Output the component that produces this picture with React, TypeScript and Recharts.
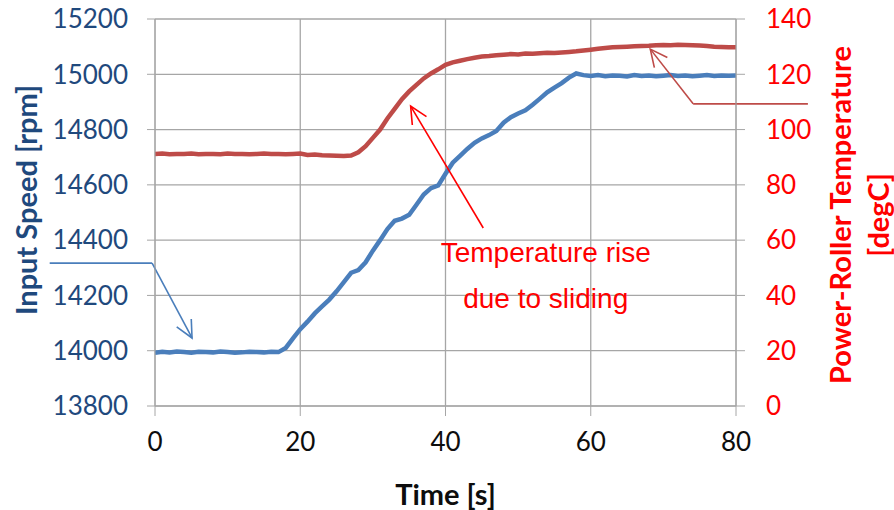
import { LineChart, Line, XAxis, YAxis, CartesianGrid, ReferenceLine, ReferenceDot } from 'recharts'

// time axis, one sample per second
const times = Array.from({ length: 81 }, (_, i) => i)

// input speed [rpm]
const speed = [
  13993, 13996, 13994, 13997, 13995, 13993, 13996, 13995, 13994, 13997,
  13995, 13993, 13994, 13996, 13995, 13994, 13996, 13995, 14010, 14045,
  14078, 14105, 14135, 14160, 14185, 14215, 14248, 14282, 14292, 14320,
  14362, 14400, 14440, 14470, 14478, 14492, 14528, 14565, 14588, 14598,
  14640, 14680, 14705, 14730, 14752, 14768, 14780, 14795, 14825, 14845,
  14858, 14870, 14890, 14912, 14935, 14952, 14968, 14988, 15003, 14997,
  14994, 14997, 14993, 14996, 14995, 14992, 14997, 14994, 14996, 14993,
  14995, 14997, 14994, 14996, 14993, 14995, 14997, 14994, 14996, 14995,
  14996,
]

// power-roller temperature [degC]
const temperature = [
  91.2, 91.3, 91.1, 91.2, 91.2, 91.3, 91.1, 91.2, 91.2, 91.1,
  91.3, 91.2, 91.2, 91.1, 91.2, 91.3, 91.2, 91.2, 91.1, 91.2,
  91.3, 90.8, 91.0, 90.7, 90.6, 90.5, 90.4, 90.6, 91.8, 94.0,
  97.0, 100.0, 104.0, 107.5, 111.0, 113.8, 116.2, 118.5, 120.3, 121.8,
  123.4, 124.3, 124.9, 125.5, 126.0, 126.4, 126.6, 126.9, 127.1, 127.3,
  127.2, 127.5, 127.4, 127.6, 127.8, 127.7, 127.9, 128.1, 128.3, 128.6,
  128.9, 129.2, 129.5, 129.8, 129.9, 130.0, 130.1, 130.2, 130.3, 130.5,
  130.6, 130.5, 130.7, 130.6, 130.5, 130.4, 130.2, 130.0, 129.9, 129.8,
  129.8,
]

const timeTicks = [0, 20, 40, 60, 80]
const speedTicks = [13800, 14000, 14200, 14400, 14600, 14800, 15000, 15200]
const tempTicks = [0, 20, 40, 60, 80, 100, 120, 140]

const data = times.map((t, i) => ({ t, speed: speed[i], temp: temperature[i] }))

const GRID = '#A6A6A6'
const BLUE = '#4A7EBB'
const DARKRED = '#BE4B48'
const NAVY = '#1F497D'
const TICK_FONT = 'Lato, sans-serif'
const NOTE_FONT = 'Liberation Sans, Arial, sans-serif'

// line with an open arrow head at (x2, y2)
const arrow = (color: string, head: boolean) => (props: any) => {
  const { x1, y1, x2, y2 } = props
  const a = Math.atan2(y2 - y1, x2 - x1)
  const len = 19
  const spread = Math.PI / 7
  const p1 = [x2 - len * Math.cos(a - spread), y2 - len * Math.sin(a - spread)]
  const p2 = [x2 - len * Math.cos(a + spread), y2 - len * Math.sin(a + spread)]
  return (
    <g>
      <line x1={x1} y1={y1} x2={x2} y2={y2} stroke={color} strokeWidth={1.6} />
      {head && (
        <polyline
          points={`${p1[0]},${p1[1]} ${x2},${y2} ${p2[0]},${p2[1]}`}
          fill="none"
          stroke={color}
          strokeWidth={1.6}
        />
      )}
    </g>
  )
}

export default function App() {
  return (
    <div style={{ position: 'absolute', left: 0, top: 0, background: '#fff' }}>
      <LineChart width={894} height={510} data={data} margin={{ top: 19, right: 0, bottom: 0, left: 0 }}>
        <CartesianGrid yAxisId="left" stroke={GRID} strokeWidth={1.3} />
        <XAxis
          dataKey="t"
          type="number"
          domain={[0, 80]}
          ticks={timeTicks}
          allowDataOverflow
          height={104}
          stroke={GRID}
          tickSize={10}
          tickMargin={17}
          tick={{ fill: '#0D0D0D', fontSize: 26, fontFamily: TICK_FONT }}
          label={(p: any) => (
            <text
              x={p.viewBox.x + p.viewBox.width / 2}
              y={493}
              textAnchor="middle"
              dominantBaseline="central"
              fill="#0D0D0D"
              fontSize={29}
              fontWeight="bold"
              fontFamily={TICK_FONT}
            >
              Time [s]
            </text>
          )}
        />
        <YAxis
          yAxisId="left"
          domain={[13800, 15200]}
          ticks={speedTicks}
          allowDataOverflow
          width={155}
          stroke={GRID}
          tickSize={8}
          tickMargin={19}
          tick={{ fill: NAVY, fontSize: 26, fontFamily: TICK_FONT }}
          label={() => (
            <text
              x={25}
              y={200}
              transform="rotate(-90, 25, 200)"
              textAnchor="middle"
              dominantBaseline="central"
              fill={NAVY}
              fontSize={29}
              fontWeight="bold"
              fontFamily={TICK_FONT}
            >
              Input Speed [rpm]
            </text>
          )}
        />
        <YAxis
          yAxisId="right"
          orientation="right"
          domain={[0, 140]}
          ticks={tempTicks}
          allowDataOverflow
          width={158}
          stroke={GRID}
          tickSize={9}
          tickMargin={21}
          tick={{ fill: '#FF0000', fontSize: 26, fontFamily: TICK_FONT }}
          label={(p: any) => {
            const x1 = p.viewBox.x + 103
            const x2 = p.viewBox.x + 141
            const cy = 215
            const common = {
              textAnchor: 'middle' as const,
              dominantBaseline: 'central' as const,
              fill: '#FF0000',
              fontSize: 29,
              fontWeight: 'bold',
              fontFamily: TICK_FONT,
            }
            return (
              <g>
                <text x={x1} y={cy} transform={`rotate(-90, ${x1}, ${cy})`} {...common}>
                  Power-Roller Temperature
                </text>
                <text x={x2} y={cy} transform={`rotate(-90, ${x2}, ${cy})`} {...common}>
                  [degC]
                </text>
              </g>
            )
          }}
        />
        <Line
          yAxisId="right"
          type="linear"
          dataKey="temp"
          stroke={DARKRED}
          strokeWidth={4.5}
          dot={false}
          isAnimationActive={false}
        />
        <Line
          yAxisId="left"
          type="linear"
          dataKey="speed"
          stroke={BLUE}
          strokeWidth={4.5}
          dot={false}
          isAnimationActive={false}
        />

        {/* blue callout to the initial speed */}
        <ReferenceLine
          yAxisId="left"
          ifOverflow="visible"
          segment={[{ x: -14.5, y: 14317 }, { x: -0.4, y: 14317 }]}
          shape={arrow(BLUE, false)}
        />
        <ReferenceLine
          yAxisId="left"
          ifOverflow="visible"
          segment={[{ x: -0.4, y: 14317 }, { x: 5.1, y: 14046 }]}
          shape={arrow(BLUE, true)}
        />

        {/* temperature rise callout */}
        <ReferenceLine
          yAxisId="left"
          ifOverflow="visible"
          segment={[{ x: 45.2, y: 14444 }, { x: 35.2, y: 14885 }]}
          shape={arrow('#FF0000', true)}
        />
        <ReferenceDot
          yAxisId="left"
          x={53.8}
          y={14357}
          r={0}
          ifOverflow="visible"
          label={{ value: 'Temperature rise', position: 'center', fill: '#FF0000', fontSize: 28, fontFamily: NOTE_FONT }}
        />
        <ReferenceDot
          yAxisId="left"
          x={53.8}
          y={14191}
          r={0}
          ifOverflow="visible"
          label={{ value: 'due to sliding', position: 'center', fill: '#FF0000', fontSize: 28, fontFamily: NOTE_FONT }}
        />

        {/* callout to the temperature curve */}
        <ReferenceLine
          yAxisId="left"
          ifOverflow="visible"
          segment={[{ x: 89.9, y: 14893 }, { x: 74.1, y: 14893 }]}
          shape={arrow(DARKRED, false)}
        />
        <ReferenceLine
          yAxisId="left"
          ifOverflow="visible"
          segment={[{ x: 74.1, y: 14893 }, { x: 68.2, y: 15091 }]}
          shape={arrow(DARKRED, true)}
        />
      </LineChart>
    </div>
  )
}
